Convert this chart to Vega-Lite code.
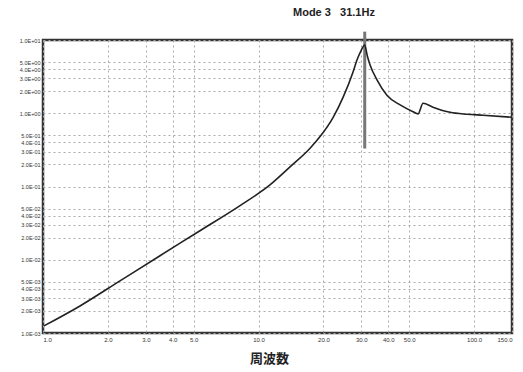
{
  "$schema": "https://vega.github.io/schema/vega-lite/v6.json",
  "width": 469,
  "height": 293,
  "autosize": "none",
  "padding": {"left": 43, "top": 40, "right": 11, "bottom": 39},
  "background": "white",
  "config": {
    "view": {"stroke": "#333", "strokeWidth": 2.5},
    "font": "Liberation Sans"
  },
  "title": {
    "text": "Mode 3\u00a0\u00a0\u00a031.1Hz",
    "anchor": "start",
    "frame": "group",
    "dx": 250,
    "offset": 12,
    "fontSize": 11,
    "fontWeight": "bold",
    "font": "Liberation Sans",
    "color": "#222"
  },
  "datasets": {
    "curve": [
      {"freq": 1.01, "resp": 0.00125},
      {"freq": 1.485, "resp": 0.00234},
      {"freq": 2.276, "resp": 0.00515},
      {"freq": 3.49, "resp": 0.01135},
      {"freq": 5.35, "resp": 0.0249},
      {"freq": 8.21, "resp": 0.0549},
      {"freq": 11.3, "resp": 0.105},
      {"freq": 14.0, "resp": 0.185},
      {"freq": 17.3, "resp": 0.33},
      {"freq": 19.3, "resp": 0.48},
      {"freq": 22.2, "resp": 0.88},
      {"freq": 24.7, "resp": 1.66},
      {"freq": 27.4, "resp": 3.6},
      {"freq": 28.6, "resp": 5.3},
      {"freq": 29.8, "resp": 7.0},
      {"freq": 31.1, "resp": 8.55},
      {"freq": 32.0, "resp": 6.0},
      {"freq": 32.9, "resp": 4.6},
      {"freq": 35.5, "resp": 2.83},
      {"freq": 39.5, "resp": 1.75},
      {"freq": 45.4, "resp": 1.3},
      {"freq": 52.1, "resp": 1.05},
      {"freq": 55.0, "resp": 0.98},
      {"freq": 58.0, "resp": 1.37},
      {"freq": 64.5, "resp": 1.21},
      {"freq": 77.4, "resp": 1.03},
      {"freq": 92.7, "resp": 0.97},
      {"freq": 110, "resp": 0.94},
      {"freq": 150, "resp": 0.88}
    ],
    "marker": [
      {"freq": 31.1, "low": 0.33, "high": 13}
    ]
  },
  "layer": [
    {
      "data": {"name": "marker"},
      "mark": {"type": "rule", "color": "#777", "strokeWidth": 3, "clip": false},
      "encoding": {
        "x": {"field": "freq", "type": "quantitative", "scale": {"type": "log", "domain": [1, 150], "nice": false}},
        "y": {"field": "low", "type": "quantitative", "scale": {"type": "log", "domain": [0.001, 10], "nice": false}},
        "y2": {"field": "high"}
      }
    },
    {
      "data": {"name": "curve"},
      "mark": {"type": "line", "color": "#222", "strokeWidth": 1.6, "interpolate": "monotone"},
      "encoding": {
        "x": {
          "field": "freq",
          "type": "quantitative",
          "scale": {"type": "log", "domain": [1, 150], "nice": false},
          "axis": {
            "values": [1, 2, 3, 4, 5, 10, 20, 30, 40, 50, 100, 150],
            "format": ".1f",
            "labelFontSize": 6,
            "labelColor": "#333",
            "labelPadding": 3,
            "ticks": false,
            "domain": false,
            "grid": true,
            "gridDash": [2, 3],
            "gridColor": "#aaa",
            "gridWidth": 1,
            "title": "周波数",
            "titleFont": "Noto Sans CJK JP",
            "titleFontSize": 13,
            "titleFontWeight": "bold",
            "titleColor": "#222",
            "titleX": 226,
            "titleY": 25,
            "titleBaseline": "middle"
          }
        },
        "y": {
          "field": "resp",
          "type": "quantitative",
          "scale": {"type": "log", "domain": [0.001, 10], "nice": false},
          "axis": {
            "values": [0.001, 0.002, 0.003, 0.004, 0.005, 0.01, 0.02, 0.03, 0.04, 0.05, 0.1, 0.2, 0.3, 0.4, 0.5, 1, 2, 3, 4, 5, 10],
            "labelExpr": "replace(replace(upper(format(datum.value, '.1e')), 'E-', 'E-0'), 'E+', 'E+0')",
            "labelFontSize": 5.5,
            "labelColor": "#333",
            "labelPadding": 3,
            "ticks": false,
            "domain": false,
            "grid": true,
            "gridDash": [2, 3],
            "gridColor": "#aaa",
            "gridWidth": 1,
            "title": null
          }
        }
      }
    }
  ]
}
